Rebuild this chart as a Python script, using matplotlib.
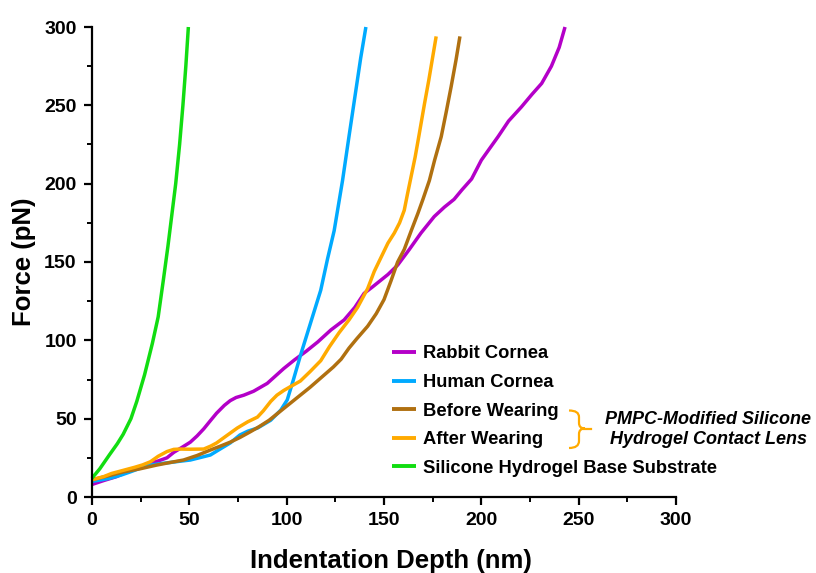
import matplotlib
matplotlib.use("Agg")
import matplotlib.pyplot as plt
from matplotlib.path import Path
from matplotlib.patches import PathPatch
from matplotlib.ticker import MultipleLocator

plt.rcParams['font.family'] = ['Liberation Sans', 'DejaVu Sans']

# ---------------- data ----------------
rabbit_x = [0, 6, 12.6, 19.6, 24.7, 30, 34, 38.5, 42, 46, 50.5, 54, 57.4, 61, 64, 68, 71, 74, 78, 83, 90,
            98.5, 104, 110, 116, 122.7, 129.5, 135, 139.8, 144, 148, 152, 157, 163, 169, 175.8, 181,
            186, 190, 195, 200, 204, 208.6, 214, 220.6, 226, 231, 236, 240, 243]
rabbit_y = [8, 10.5, 13, 17, 19, 21.6, 23, 25, 28.5, 31.5, 35, 39, 43.5, 49, 53.5, 58.5, 61.5, 63.5, 65, 67.5, 72.5,
            82, 87.5, 93, 99, 106.6, 113, 121, 130, 134, 138, 142, 148, 158, 168.5, 179, 185,
            190, 196, 203, 215, 222, 230, 240, 249, 257, 264, 275, 287, 300]

human_x = [0, 5, 9.3, 15, 19.6, 25, 30, 35, 40, 45, 50.5, 55, 60.8, 65, 71, 76, 80, 85, 91.8, 97,
           100.3, 103.5, 107, 112, 117.5, 121, 124.4, 128.7, 132, 135, 138, 140.7]
human_y = [10, 11, 12, 14, 16, 18.5, 20.4, 21.3, 22, 22.8, 23.6, 25, 26.8, 30, 34.5, 39.6, 42, 44, 49, 55.5,
           62, 75, 90, 110, 132, 152, 170, 202, 230, 255, 280, 300]

before_x = [0, 5, 10, 16, 24.7, 33.3, 40, 47, 54, 60.8, 66, 71, 76, 81.4, 86, 91, 95, 98.5, 102, 107,
            112, 118, 124, 128, 132, 136, 141.6, 146, 150, 153.6, 157, 160.4, 164, 167.4, 170,
            173.3, 176, 179.4, 182, 184.5, 187, 189]
before_y = [11, 12.5, 14, 16, 18, 20.4, 22, 23.6, 26.5, 30, 32.5, 35, 38, 41.7, 45, 49, 53, 56.5, 60, 65,
            70, 76.5, 83, 88, 95, 101, 109, 117, 126, 138, 150, 158, 170, 181, 190,
            202, 215, 230, 246, 262, 279, 294]

after_x = [0, 6, 10, 16, 22, 26, 30, 34, 38.5, 42, 45, 50, 57.4, 61, 64, 69, 74.6, 80, 85, 88,
           91.8, 95, 98.5, 102, 107, 112, 117.5, 122, 127, 132, 136.4, 141.6, 145, 148.5, 152, 155.3,
           158, 160.4, 162, 164, 166, 168, 170.8, 173, 176.8]
after_y = [11, 13, 15, 17, 19, 20.5, 22.5, 26, 29, 30.4, 30.6, 30.5, 30.6, 32.5, 34.5, 39, 44, 48, 51, 55,
           61, 65, 68, 70.5, 74, 80, 87, 96, 105, 113, 121, 133, 144, 153, 162, 168.5,
           175, 183, 193, 205, 217, 231, 251, 266, 294]

base_x = [0, 4, 9, 13, 16, 20, 23, 27, 31, 34, 36.6, 39, 41, 43, 45, 46.7, 48.2, 49.5]
base_y = [12, 18, 27, 34, 40, 50, 61, 78, 98, 115, 138, 160, 180, 200, 225, 250, 275, 300]

labels = ["Rabbit Cornea", "Human Cornea", "Before Wearing", "After Wearing",
          "Silicone Hydrogel Base Substrate"]
colors = ["#B400C8", "#00AAFF", "#B07010", "#FFAA00", "#11DD11"]
x_ticks = [0, 50, 100, 150, 200, 250, 300]
y_ticks = [0, 50, 100, 150, 200, 250, 300]

# ---------------- figure ----------------
W, H = 816, 573
fig = plt.figure(figsize=(W / 100, H / 100), dpi=100)
ax = fig.add_axes([92 / W, 1 - 497 / H, (676 - 92) / W, (497 - 27) / H])

series = [(rabbit_x, rabbit_y), (human_x, human_y), (before_x, before_y),
          (after_x, after_y), (base_x, base_y)]
for (xs, ys), lab, c in zip(series, labels, colors):
    ax.plot(xs, ys, color=c, lw=2.5, label=lab, solid_capstyle='butt',
            solid_joinstyle='round', clip_on=False)

ax.set_xlim(0, 300)
ax.set_ylim(0, 300)
ax.set_xticks(x_ticks)
ax.set_yticks(y_ticks)
ax.xaxis.set_minor_locator(MultipleLocator(25))
ax.yaxis.set_minor_locator(MultipleLocator(25))
for s in ['top', 'right']:
    ax.spines[s].set_visible(False)
for s in ['left', 'bottom']:
    ax.spines[s].set_linewidth(1.6)
ax.tick_params(which='major', direction='out', length=6, width=1.6, labelsize=14, pad=5)
ax.tick_params(which='minor', direction='out', length=3.5, width=1.4)
for lab in ax.get_xticklabels() + ax.get_yticklabels():
    lab.set_fontweight('bold')

ax.set_xlabel("Indentation Depth (nm)", fontsize=18.5, fontweight='bold')
ax.xaxis.set_label_coords((391 - 92) / (676 - 92), -0.111)
ax.set_ylabel("Force (pN)", fontsize=18.5, fontweight='bold', labelpad=6)

leg = ax.legend(loc='upper left', bbox_to_anchor=(392 / W, 1 - 345.5 / H),
                bbox_transform=fig.transFigure, frameon=False, borderpad=0,
                borderaxespad=0, handlelength=1.3, handletextpad=0.4,
                labelspacing=0.63, prop={'weight': 'bold', 'size': 13.2})
for line in leg.get_lines():
    line.set_linewidth(2.8)

# brace (figure pixel coordinates, y measured from top)
def fp(x, y):
    return (x / W, 1 - y / H)

verts = [fp(569, 410.5), fp(579, 410.5), fp(579, 417),
         fp(579, 423), fp(579, 428.5), fp(585, 428.5),
         fp(579, 428.5), fp(579, 434),
         fp(579, 441), fp(579, 448), fp(569, 448)]
codes = [Path.MOVETO, Path.CURVE3, Path.CURVE3,
         Path.LINETO, Path.CURVE3, Path.CURVE3,
         Path.CURVE3, Path.CURVE3,
         Path.LINETO, Path.CURVE3, Path.CURVE3]
fig.add_artist(PathPatch(Path(verts, codes), transform=fig.transFigure, fill=False,
                         edgecolor="#FFAA00", lw=1.6, capstyle='butt'))
fig.add_artist(plt.Line2D([584 / W, 591 / W], [1 - 428.5 / H, 1 - 428.5 / H],
                          transform=fig.transFigure, color="#FFAA00", lw=1.6))

fig.text(708 / W, 1 - 419 / H, "PMPC-Modified Silicone", ha='center', va='center',
         fontsize=13, fontweight='bold', style='italic')
fig.text(708 / W, 1 - 440 / H, "Hydrogel Contact Lens", ha='center', va='center',
         fontsize=13, fontweight='bold', style='italic')

fig.savefig("out.png", dpi=100)
